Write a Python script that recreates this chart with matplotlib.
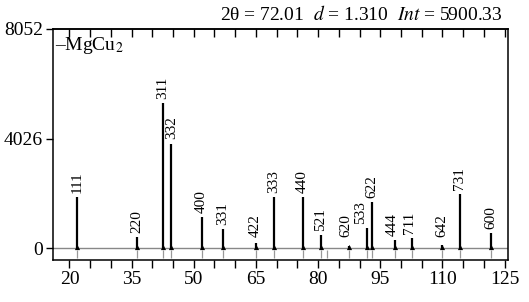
import matplotlib.pyplot as plt
import matplotlib.ticker as ticker

# peak positions (2theta), intensities and hkl labels
two_theta = [21.9, 36.2, 42.5, 44.6, 51.9, 57.0, 64.9, 69.3, 76.3, 80.6,
             87.4, 91.7, 93.0, 98.5, 102.6, 109.9, 114.2, 121.7]
intensity = [1870, 400, 5340, 3840, 1130, 700, 180, 1870, 1870, 475,
             70, 730, 1680, 290, 360, 110, 1980, 550]
hkl = ['111', '220', '311', '332', '400', '331', '422', '333', '440', '521',
       '620', '533', '622', '444', '711', '642', '731', '600']
# reference line positions of the MgCu2 card
ref_lines = [21.9, 36.2, 42.5, 44.6, 51.9, 57.0, 64.9, 69.3, 76.3, 80.6, 82.1,
             87.4, 91.7, 93.0, 98.5, 102.6, 109.9, 114.2, 121.7]
label_shift = {'533': -4, '620': -2, '444': -1.5, '711': -1.5}

plt.rcParams['font.family'] = ['Liberation Serif', 'DejaVu Serif']
plt.rcParams['mathtext.fontset'] = 'stix'

fig = plt.figure(figsize=(5.29, 3.02), dpi=100)
ax = fig.add_axes([0.100, 0.139, 0.860, 0.765])

ax.axhline(0, color='#888888', lw=1.0, zorder=1)
ax.vlines(ref_lines, -380, -60, color='#999999', lw=0.9, zorder=1)
ax.vlines(two_theta, 0, intensity, color='black', lw=1.6, zorder=3)
ax.scatter(two_theta, [40] * len(two_theta), marker='^', s=14, color='black',
           lw=0, zorder=3)

for x, h, lab in zip(two_theta, intensity, hkl):
    ax.annotate(lab, (x, max(h, 260)), xytext=(label_shift.get(lab, 0), 3),
                textcoords='offset points', rotation=90, ha='center',
                va='bottom', fontsize=11)

ax.set_xlim(16, 125.8)
ax.set_ylim(-440, 8052)
ax.xaxis.set_major_locator(ticker.FixedLocator([20, 35, 50, 65, 80, 95, 110, 125]))
ax.xaxis.set_minor_locator(ticker.MultipleLocator(5))
ax.set_yticks([0, 4026, 8052])
ax.tick_params(axis='x', which='both', direction='out', length=6, width=1,
               labelsize=14, pad=2)
ax.tick_params(axis='y', direction='out', length=5, width=1, labelsize=14, pad=2)
ax.tick_params(axis='y', which='major', length=5)

top = ax.secondary_xaxis('top')
top.xaxis.set_major_locator(ticker.MultipleLocator(5))
top.tick_params(direction='in', length=6, width=1, labeltop=False)

for sp in ax.spines.values():
    sp.set_linewidth(1.1)
top.spines['top'].set_linewidth(1.1)

ax.text(0.005, 0.975, '–MgCu$_2$', transform=ax.transAxes, ha='left', va='top',
        fontsize=14)
fig.text(0.95, 0.985, r'2θ = 72.01  $d$ = 1.310  $Int$ = 5900.33',
         ha='right', va='top', fontsize=14)

fig.savefig('out.png', dpi=100)
